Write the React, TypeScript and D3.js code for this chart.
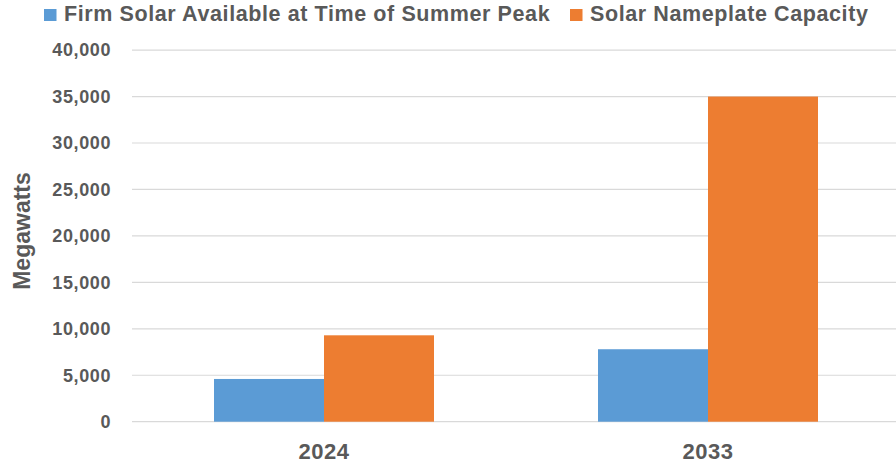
import React from "react";
import * as d3 from "d3";

const categories = ["2024", "2033"];
const seriesNames = ["Firm Solar Available at Time of Summer Peak", "Solar Nameplate Capacity"];
const firmSolar = [4600, 7800];
const nameplate = [9300, 35000];
const yTicks = [0, 5000, 10000, 15000, 20000, 25000, 30000, 35000, 40000];
const colors = ["#5B9BD5", "#ED7D31"];

const W = 896;
const H = 463;
const FONT = "'Liberation Sans', Arial, sans-serif";
const TEXT = "#595959";

export default function App() {
  const x = d3.scaleBand<string>().domain(categories).range([132, 900]).padding(0);
  const inner = d3.scaleBand<string>().domain(seriesNames).range([-110, 110]).padding(0);
  const y = d3.scaleLinear().domain([0, 40000]).range([421.7, 50.1]);
  const fmt = d3.format(",");
  const series = [firmSolar, nameplate];

  const legendX = [44, 570];

  return (
    <svg
      width={W}
      height={H}
      style={{ position: "absolute", left: 0, top: 0, display: "block", background: "#fff" }}
      fontFamily={FONT}
    >
      <rect x={0} y={0} width={W} height={H} fill="#fff" />
      {/* gridlines */}
      {yTicks.map((t) => (
        <line key={t} x1={132} x2={W} y1={y(t)} y2={y(t)} stroke="#D9D9D9" strokeWidth={1.2} />
      ))}
      {/* y tick labels */}
      {yTicks.map((t) => (
        <text
          key={"l" + t}
          x={111}
          y={y(t)}
          dy="0.35em"
          textAnchor="end"
          fontSize={18}
          fontWeight="bold"
          fill={TEXT}
          letterSpacing={0.6}
        >
          {fmt(t)}
        </text>
      ))}
      {/* bars */}
      {categories.map((c, ci) =>
        series.map((s, si) => {
          const cx = (x(c) as number) + x.bandwidth() / 2;
          const bx = cx + (inner(seriesNames[si]) as number);
          return (
            <rect
              key={c + si}
              x={bx}
              y={y(s[ci])}
              width={inner.bandwidth()}
              height={y(0) - y(s[ci])}
              fill={colors[si]}
            />
          );
        })
      )}
      {/* x labels */}
      {categories.map((c) => (
        <text
          key={"x" + c}
          x={(x(c) as number) + x.bandwidth() / 2}
          y={459}
          textAnchor="middle"
          fontSize={22}
          fontWeight="bold"
          fill={TEXT}
          letterSpacing={0.5}
        >
          {c}
        </text>
      ))}
      {/* y title */}
      <text
        transform="translate(29.5,231) rotate(-90)"
        textAnchor="middle"
        fontSize={23}
        fontWeight="bold"
        fill={TEXT}
      >
        Megawatts
      </text>
      {/* legend */}
      {seriesNames.map((n, i) => (
        <g key={n}>
          <rect x={legendX[i]} y={9} width={12.5} height={12} fill={colors[i]} />
          <text
            x={legendX[i] + 20}
            y={21}
            fontSize={21.5}
            fontWeight="bold"
            fill={TEXT}
            letterSpacing={0.6}
          >
            {n}
          </text>
        </g>
      ))}
    </svg>
  );
}
